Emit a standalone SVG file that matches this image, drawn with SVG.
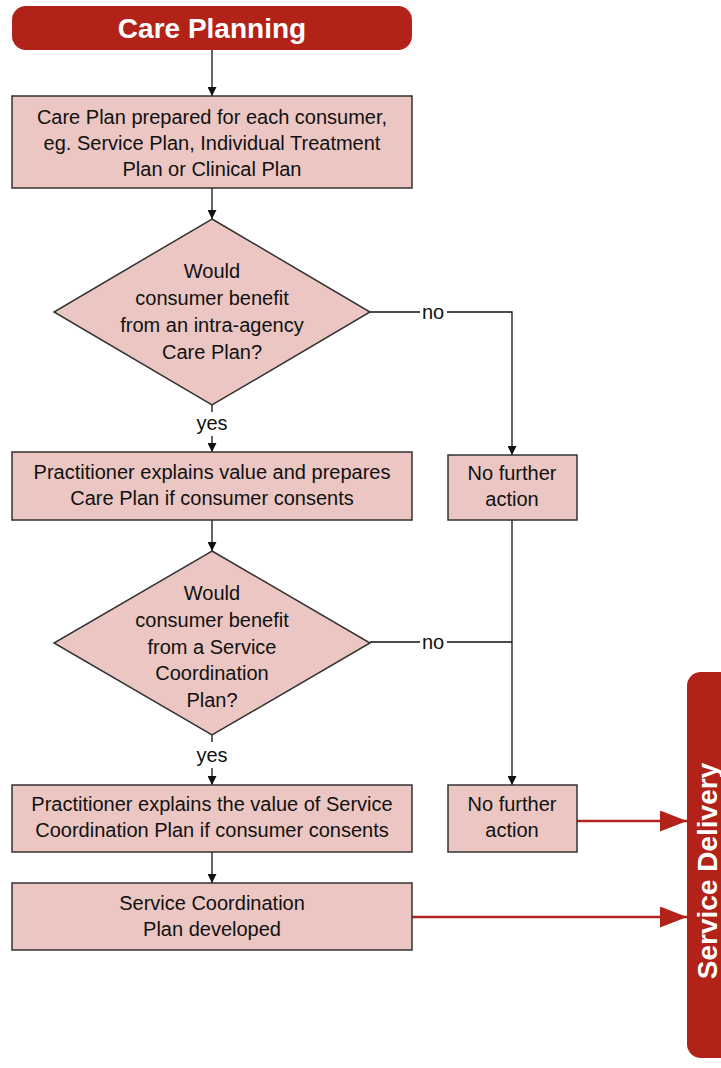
<svg xmlns="http://www.w3.org/2000/svg" width="721" height="1068" viewBox="0 0 721 1068">
<defs>
<style>
.box{fill:#ebc6c2;stroke:#333;stroke-width:1.5}
.t{font-family:"Liberation Sans",Arial,sans-serif;font-size:20px;fill:#111;text-anchor:middle}
.hd{font-family:"Liberation Sans",Arial,sans-serif;font-weight:bold;font-size:28px;fill:#fff;text-anchor:middle}
.ln{fill:none;stroke:#111;stroke-width:1.3}
.rl{fill:none;stroke:#b22219;stroke-width:2.5}
</style>
<marker id="ah" viewBox="0 0 10 10" refX="10" refY="5" markerWidth="9" markerHeight="9" markerUnits="userSpaceOnUse" orient="auto"><path d="M0,0 L10,5 L0,10 Z" fill="#111"/></marker>
<marker id="rh" viewBox="0 0 10 10" refX="10" refY="5" markerWidth="27" markerHeight="21" markerUnits="userSpaceOnUse" orient="auto" preserveAspectRatio="none"><path d="M0,0 L10,5 L0,10 Z" fill="#b22219"/></marker>
</defs>
<rect width="721" height="1068" fill="#fff"/>
<g id="connectors">
<line class="ln" x1="212" y1="50" x2="212" y2="96" marker-end="url(#ah)"/>
<line class="ln" x1="212" y1="188" x2="212" y2="219" marker-end="url(#ah)"/>
<line class="ln" x1="212" y1="405" x2="212" y2="412"/>
<line class="ln" x1="212" y1="436" x2="212" y2="452" marker-end="url(#ah)"/>
<polyline class="ln" points="370,312 420,312"/>
<polyline class="ln" points="447,312 512,312 512,455" marker-end="url(#ah)"/>
<line class="ln" x1="212" y1="520" x2="212" y2="551" marker-end="url(#ah)"/>
<line class="ln" x1="212" y1="735" x2="212" y2="742"/>
<line class="ln" x1="212" y1="768" x2="212" y2="785" marker-end="url(#ah)"/>
<polyline class="ln" points="370,642 420,642"/>
<line class="ln" x1="447" y1="642" x2="512" y2="642"/>
<line class="ln" x1="512" y1="520" x2="512" y2="785" marker-end="url(#ah)"/>
<line class="ln" x1="212" y1="852" x2="212" y2="883" marker-end="url(#ah)"/>
<line class="rl" x1="577" y1="821" x2="687" y2="821" marker-end="url(#rh)"/>
<line class="rl" x1="412" y1="917" x2="687" y2="917" marker-end="url(#rh)"/>
<text class="t" x="433" y="319">no</text>
<text class="t" x="433" y="649">no</text>
<text class="t" x="212" y="430">yes</text>
<text class="t" x="212" y="762">yes</text>
</g>
<g id="care-planning">
<rect x="12" y="6" width="400" height="44" rx="14" fill="#b22219"/>
<text class="hd" x="212" y="38">Care Planning</text>
</g>
<g id="care-plan-prepared">
<rect class="box" x="12" y="96" width="400" height="92"/>
<text class="t" x="212" y="124">Care Plan prepared for each consumer,</text>
<text class="t" x="212" y="150">eg. Service Plan, Individual Treatment</text>
<text class="t" x="212" y="176">Plan or Clinical Plan</text>
</g>
<g id="decision-1">
<polygon class="box" points="212,219 370,312 212,405 54,312"/>
<text class="t" x="212" y="278">Would</text>
<text class="t" x="212" y="305">consumer benefit</text>
<text class="t" x="212" y="332">from an intra-agency</text>
<text class="t" x="212" y="359">Care Plan?</text>
</g>
<g id="explains-value">
<rect class="box" x="12" y="452" width="400" height="68"/>
<text class="t" x="212" y="479">Practitioner explains value and prepares</text>
<text class="t" x="212" y="505">Care Plan if consumer consents</text>
</g>
<g id="no-action-1">
<rect class="box" x="448" y="455" width="129" height="65"/>
<text class="t" x="512" y="480">No further</text>
<text class="t" x="512" y="506">action</text>
</g>
<g id="decision-2">
<polygon class="box" points="212,551 370,643 212,735 54,643"/>
<text class="t" x="212" y="600">Would</text>
<text class="t" x="212" y="627">consumer benefit</text>
<text class="t" x="212" y="654">from a Service</text>
<text class="t" x="212" y="680">Coordination</text>
<text class="t" x="212" y="707">Plan?</text>
</g>
<g id="explains-sc">
<rect class="box" x="12" y="785" width="400" height="67"/>
<text class="t" x="212" y="811">Practitioner explains the value of Service</text>
<text class="t" x="212" y="837">Coordination Plan if consumer consents</text>
</g>
<g id="no-action-2">
<rect class="box" x="448" y="785" width="129" height="67"/>
<text class="t" x="512" y="811">No further</text>
<text class="t" x="512" y="837">action</text>
</g>
<g id="sc-developed">
<rect class="box" x="12" y="883" width="400" height="67"/>
<text class="t" x="212" y="910">Service Coordination</text>
<text class="t" x="212" y="936">Plan developed</text>
</g>
<g id="service-delivery">
<rect x="687" y="672" width="70" height="386" rx="14" fill="#b22219"/>
<text class="hd" transform="translate(717,871) rotate(-90)" x="0" y="0">Service Delivery</text>
</g>
</svg>
